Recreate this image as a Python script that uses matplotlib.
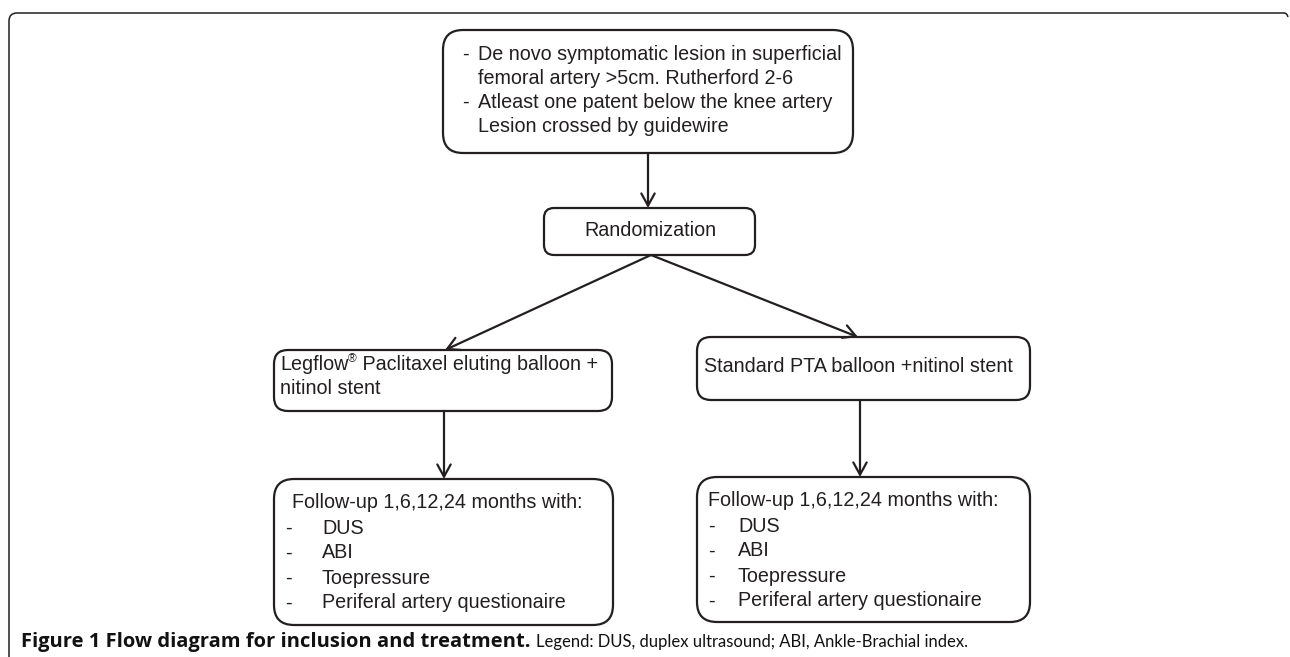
import matplotlib
matplotlib.use("Agg")
import matplotlib.pyplot as plt
from matplotlib.patches import FancyBboxPatch, PathPatch
from matplotlib.path import Path

# texts of the flow diagram
top_lines = ["De novo symptomatic lesion in superficial",
             "femoral artery >5cm. Rutherford 2-6",
             "Atleast one patent below the knee artery",
             "Lesion crossed by guidewire"]
top_dash = [True, False, True, False]
rand_label = "Randomization"
arm_left = ["Legflow\u00ae Paclitaxel eluting balloon +", "nitinol stent"]
arm_right = ["Standard PTA balloon +nitinol stent"]
followup_header = "Follow-up 1,6,12,24 months with:"
followup_items = ["DUS", "ABI", "Toepressure", "Periferal artery questionaire"]
caption_bold = "Figure 1 Flow diagram for inclusion and treatment."
caption_rest = "Legend: DUS, duplex ultrasound; ABI, Ankle-Brachial index."

ink = "#231f20"
fs = 14.2
plt.rcParams['font.family'] = ['Liberation Sans', 'DejaVu Sans']

fig = plt.figure(figsize=(12.9, 6.57), dpi=100)
ax = fig.add_axes([0, 0, 1, 1])
ax.set_xlim(0, 1290)
ax.set_ylim(657, 0)
ax.axis('off')
renderer = fig.canvas.get_renderer()


def box(x0, y0, x1, y1, r=14):
    p = FancyBboxPatch((x0, y0), x1 - x0, y1 - y0,
                       boxstyle="round,pad=0,rounding_size=%d" % r,
                       fc="white", ec=ink, lw=1.6)
    ax.add_patch(p)


def arrow(x0, y0, x1, y1):
    ax.annotate("", xy=(x1, y1), xytext=(x0, y0),
                arrowprops=dict(arrowstyle="->,head_length=0.55,head_width=0.3",
                                color=ink, lw=1.6, shrinkA=0, shrinkB=0,
                                mutation_scale=16))


def line_text(x, y, s, **kw):
    # draws text, puts the registered sign as a small superscript
    parts = s.split("\u00ae")
    for i, part in enumerate(parts):
        if i > 0:
            t = ax.text(x, y - 5, "\u00ae", fontsize=fs * 0.6, color=ink, va='center', **kw)
            x = t.get_window_extent(renderer).x1
        t = ax.text(x, y, part, fontsize=fs, color=ink, va='center', **kw)
        x = t.get_window_extent(renderer).x1
    return x


# outer frame
verts = [(9, 657), (9, 21), (9, 13), (17, 13), (1284, 13), (1287, 13), (1288, 17)]
codes = [Path.MOVETO, Path.LINETO, Path.CURVE3, Path.CURVE3, Path.LINETO, Path.CURVE3, Path.CURVE3]
ax.add_patch(PathPatch(Path(verts, codes), fc="none", ec=ink, lw=1.1))

# boxes
box(443, 30, 853, 153, r=20)
box(544, 208, 755, 255, r=10)
box(274, 350, 612, 411, r=14)
box(697, 337, 1030, 400, r=14)
box(274, 479, 613, 625, r=20)
box(697, 477, 1030, 622, r=20)

# arrows
arrow(648, 153, 648, 208)
arrow(651, 255, 445, 350)
arrow(651, 255, 858, 337)
arrow(444, 411, 444, 479)
arrow(860, 400, 860, 477)

# top box text
y = 54
for s, d in zip(top_lines, top_dash):
    if d:
        ax.text(462, y, "-", fontsize=fs, color=ink, va='center')
    ax.text(478, y, s, fontsize=fs, color=ink, va='center')
    y += 24

ax.text(650, 231, rand_label, fontsize=fs, color=ink, ha='center', va='center')

y = 364
for s in arm_left:
    line_text(280, y, s)
    y += 24
for s in arm_right:
    line_text(704, 367, s)

# follow-up boxes
for hx, dx, ix, y0 in [(292, 285, 322, 503), (708, 708, 738, 501)]:
    ax.text(hx, y0, followup_header, fontsize=fs, color=ink, va='center')
    y = y0 + 25
    for s in followup_items:
        ax.text(dx, y, "-", fontsize=fs, color=ink, va='center')
        ax.text(ix, y, s, fontsize=fs, color=ink, va='center')
        y += 25

# caption: bold title, narrower legend text
t = ax.text(21, 642, caption_bold, fontsize=14.5, fontweight='bold', color="#111111",
            va='center', family=['Open Sans', 'DejaVu Sans'])
x = t.get_window_extent(renderer).x1 + 6
ax.text(x, 642, caption_rest, fontsize=12, color="#111111", va='center',
        family=['Lato', 'DejaVu Sans'])

fig.savefig("out.png", dpi=100)
